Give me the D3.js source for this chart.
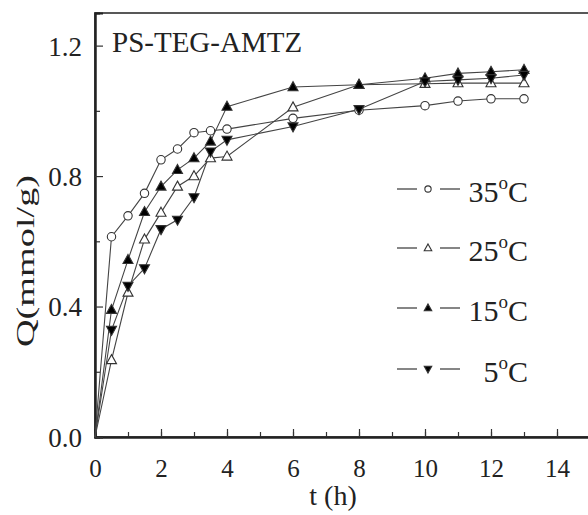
<!DOCTYPE html>
<html><head><meta charset="utf-8">
<script src="https://cdn.jsdelivr.net/npm/d3@7"></script>
<style>body{margin:0;background:#fff}svg{display:block}text{font-family:"Liberation Serif","Times New Roman",Times,serif;fill:#222}</style>
</head><body><svg id="c" width="588" height="515"></svg>
<script>
const times = [0,0.5,1,1.5,2,2.5,3,3.5,4,6,8,10,11,12,13];
const q35 = [0,0.614,0.678,0.747,0.850,0.883,0.933,0.939,0.944,0.977,1.002,1.016,1.030,1.037,1.037];
const q25 = [0,0.236,0.443,0.606,0.688,0.768,0.800,0.855,0.860,1.011,1.080,1.083,1.085,1.085,1.085];
const q15 = [0,0.390,0.543,0.690,0.768,0.819,0.855,0.906,1.013,1.073,1.080,1.100,1.115,1.120,1.126];
const q5  = [0,0.328,0.463,0.517,0.637,0.666,0.735,0.875,0.911,0.952,1.005,1.090,1.095,1.100,1.110];
const seriesNames = ["35","25","15","5"];
const xTicks = [0,2,4,6,8,10,12,14];
const yTicks = [0.0,0.4,0.8,1.2];
const titleText = "PS-TEG-AMTZ";

const svg = d3.select("#c");
const L=95, R=590, T=13, B=437;
const x = d3.scaleLinear().domain([0,15]).range([L,R]);
const y = d3.scaleLinear().domain([0,1.3]).range([B,T]);

const series = [
  {name:seriesNames[0], vals:q35, shape:"circle", fill:"#fff"},
  {name:seriesNames[1], vals:q25, shape:"up", fill:"#fff"},
  {name:seriesNames[2], vals:q15, shape:"up", fill:"#000"},
  {name:seriesNames[3], vals:q5, shape:"down", fill:"#000"}
];

function marker(g, s, cx, cy, size){
  if(s.shape==="circle"){
    g.append("circle").attr("cx",cx).attr("cy",cy).attr("r",size*0.42)
      .attr("fill",s.fill).attr("stroke","#333").attr("stroke-width",1.1);
  } else {
    const h=size*0.9, w=size;
    const pts = s.shape==="up"
      ? [[cx,cy-h*0.6],[cx+w/2,cy+h*0.4],[cx-w/2,cy+h*0.4]]
      : [[cx,cy+h*0.6],[cx+w/2,cy-h*0.4],[cx-w/2,cy-h*0.4]];
    g.append("polygon").attr("points",pts.map(p=>p.join(",")).join(" "))
      .attr("fill",s.fill).attr("stroke","#333").attr("stroke-width",1.1);
  }
}

// frame
svg.append("rect").attr("x",L).attr("y",T).attr("width",R-L).attr("height",B-T)
  .attr("fill","none").attr("stroke","#222").attr("stroke-width",1.5);

// axes
const xAxisMinor = d3.axisBottom(x).tickValues(d3.range(0,16,1)).tickSize(-5).tickFormat("");
const xAxis = d3.axisBottom(x).tickValues(xTicks).tickSize(-8).tickPadding(22).tickFormat(d=>d);
const yAxisMinor = d3.axisLeft(y).tickValues([0.2,0.6,1.0]).tickSize(-5).tickFormat("");
const yAxis = d3.axisLeft(y).tickValues(yTicks).tickSize(-8).tickPadding(13).tickFormat(d3.format(".1f"));

function styleAxis(g){
  g.attr("font-family",null);
  g.select(".domain").attr("stroke","#222").attr("stroke-width",2);
  g.selectAll(".tick line").attr("stroke","#333").attr("stroke-width",1.2);
  g.selectAll("text").style("font-size","26px").attr("fill","#222");
}
svg.append("g").attr("transform",`translate(0,${B})`).call(xAxisMinor).call(styleAxis);
svg.append("g").attr("transform",`translate(0,${B})`).call(xAxis).call(styleAxis)
  .selectAll("text").style("font-size","25px");
svg.append("g").attr("transform",`translate(${L},0)`).call(yAxisMinor).call(styleAxis);
svg.append("g").attr("transform",`translate(${L},0)`).call(yAxis).call(styleAxis)
  .selectAll("text").style("font-size","27px").attr("dy","0.35em");

// axis labels
svg.append("text").attr("x",333).attr("y",505).attr("text-anchor","middle")
  .style("font-size","28px").text("t (h)");
svg.append("text").attr("transform","translate(34,261) rotate(-90)").attr("text-anchor","middle")
  .style("font-size","26px").attr("textLength",172).attr("lengthAdjust","spacingAndGlyphs").text("Q(mmol/g)");

// title
svg.append("text").attr("x",112).attr("y",52).style("font-size","29px").text(titleText);

// lines and markers
const line = d3.line().x((d,i)=>x(times[i])).y(d=>y(d));
const plot = svg.append("g");
series.forEach(s=>{
  plot.append("path").datum(s.vals).attr("d",line).attr("fill","none")
    .attr("stroke","#444").attr("stroke-width",1.1);
});
series.forEach(s=>{
  const g = plot.append("g");
  s.vals.forEach((v,i)=>{ if(i>0) marker(g,s,x(times[i]),y(v),10); });
});

// legend
const legY = [189,248,308,369];
series.forEach((s,i)=>{
  const g = svg.append("g");
  const cy = legY[i];
  g.append("line").attr("x1",397).attr("x2",417).attr("y1",cy).attr("y2",cy).attr("stroke","#444").attr("stroke-width",1.3);
  g.append("line").attr("x1",440).attr("x2",460).attr("y1",cy).attr("y2",cy).attr("stroke","#444").attr("stroke-width",1.3);
  marker(g,s,428,cy,7.5);
  const t = g.append("text").attr("x",528).attr("y",cy+13).attr("text-anchor","end").style("font-size","30px");
  t.append("tspan").text(s.name);
  t.append("tspan").attr("dy",-13).style("font-size","19px").text("o");
  t.append("tspan").attr("dy",13).text("C");
});
</script></body></html>
